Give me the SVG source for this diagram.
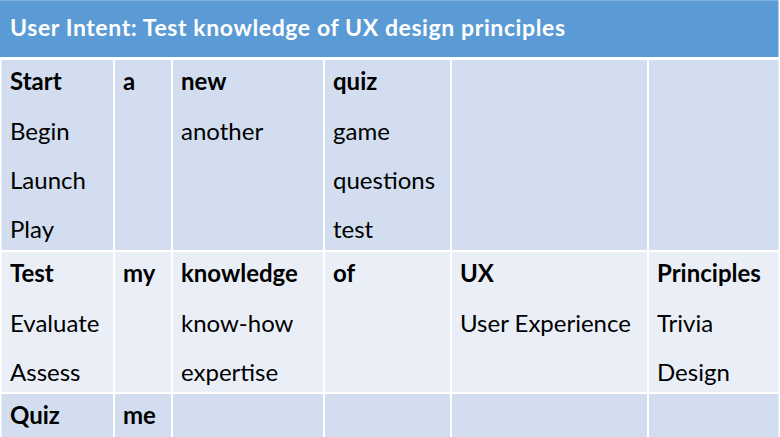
<svg xmlns="http://www.w3.org/2000/svg" width="780" height="437" viewBox="0 0 780 437">
  <style>
    .hdr { fill: #5B9BD5; }
    .odd { fill: #D2DEEF; }
    .even { fill: #EAEFF7; }
    .div { stroke: #FFFFFF; stroke-width: 2; }
    text { font-family: Lato, "Open Sans", "Liberation Sans", sans-serif; font-size: 24px; fill: #000000; }
    .b { font-weight: bold; }
    .title { font-size: 23px; font-weight: bold; fill: #FFFFFF; }
  </style>
  <rect x="0" y="0" width="780" height="437" fill="#FFFFFF"/>
  <g id="header">
    <rect class="hdr" x="0" y="0" width="780" height="57"/>
    <line x1="0" y1="0.5" x2="780" y2="0.5" stroke="#7FB0DD" stroke-width="1"/>
    <text class="title" x="10" y="36" textLength="555" lengthAdjust="spacing">User Intent: Test knowledge of UX design principles</text>
  </g>
  <g id="row1">
    <rect class="odd" x="0" y="60" width="780" height="190"/>
    <text class="b" x="10" y="90">Start</text>
    <text x="10" y="140">Begin</text>
    <text x="10" y="189">Launch</text>
    <text x="10" y="238">Play</text>
    <text class="b" x="123" y="90">a</text>
    <text class="b" x="181" y="90">new</text>
    <text x="181" y="140">another</text>
    <text class="b" x="333" y="90">quiz</text>
    <text x="333" y="140">game</text>
    <text x="333" y="189">questions</text>
    <text x="333" y="238">test</text>
  </g>
  <g id="row2">
    <rect class="even" x="0" y="252" width="780" height="140"/>
    <text class="b" x="10" y="282">Test</text>
    <text x="10" y="332">Evaluate</text>
    <text x="10" y="381">Assess</text>
    <text class="b" x="123" y="282">my</text>
    <text class="b" x="181" y="282">knowledge</text>
    <text x="181" y="332">know-how</text>
    <text x="181" y="381">expertise</text>
    <text class="b" x="333" y="282">of</text>
    <text class="b" x="460" y="282">UX</text>
    <text x="460" y="332">User Experience</text>
    <text class="b" x="657" y="282">Principles</text>
    <text x="657" y="332">Trivia</text>
    <text x="657" y="381">Design</text>
  </g>
  <g id="row3">
    <rect class="odd" x="0" y="394" width="780" height="43"/>
    <text class="b" x="10" y="424">Quiz</text>
    <text class="b" x="123" y="424">me</text>
  </g>
  <g id="grid">
    <line class="div" x1="114" y1="58" x2="114" y2="437"/>
    <line class="div" x1="172" y1="58" x2="172" y2="437"/>
    <line class="div" x1="324" y1="58" x2="324" y2="437"/>
    <line class="div" x1="451" y1="58" x2="451" y2="437"/>
    <line class="div" x1="648" y1="58" x2="648" y2="437"/>
    <line class="div" x1="0.5" y1="58" x2="0.5" y2="437" stroke-width="1"/>
    <line class="div" x1="779.5" y1="0" x2="779.5" y2="437" stroke-width="1"/>
  </g>
</svg>
